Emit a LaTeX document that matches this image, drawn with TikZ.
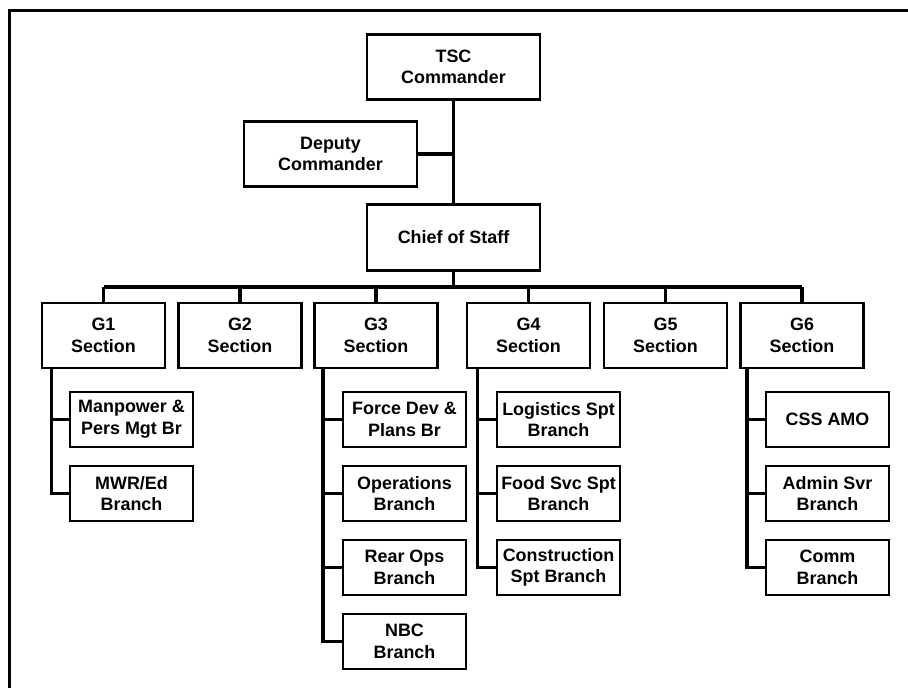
\documentclass[tikz,border=0pt]{standalone}
\usepackage{fontspec}
\setmainfont{Liberation Sans}
\usetikzlibrary{positioning,calc}
\tikzset{
  orgbox/.style={draw, line width=1.5pt, align=center, inner sep=1pt,
    minimum width=2.46cm, minimum height=1.3cm,
    font=\fontsize{10.2}{12.3}\selectfont\bfseries},
  headbox/.style={orgbox, minimum width=3.46cm, minimum height=1.31cm},
  subbox/.style={orgbox, minimum height=1.1cm},
  link/.style={line width=2pt},
  frame/.style={line width=1.8pt}
}
\begin{document}
\begin{tikzpicture}[x=0.02cm,y=-0.02cm]
  \useasboundingbox (0,0) rectangle (908,688);
  \draw[frame] (9.5,688) -- (9.5,10.5) -- (908,10.5);

  % command group
  \node[headbox] (tsc) at (453.5,67) {TSC\\Commander};
  \node[headbox] (dep) at (330.5,154) {Deputy\\Commander};
  \node[headbox] (cos) at (453.5,237.5) {Chief of Staff};
  \coordinate (bus) at (453.5,287);

  % staff sections
  \node[orgbox] (g1) at (103.5,335.5) {G1\\Section};
  \node[orgbox] (g2) at (240,335.5) {G2\\Section};
  \node[orgbox] (g3) at (376,335.5) {G3\\Section};
  \node[orgbox] (g4) at (528.5,335.5) {G4\\Section};
  \node[orgbox] (g5) at (665.5,335.5) {G5\\Section};
  \node[orgbox] (g6) at (802,335.5) {G6\\Section};

  % branches
  \node[subbox] (mpers) at (131.5,419.5) {Manpower \&\\Pers Mgt Br};
  \node[subbox] (mwr) at (131.5,493.5) {MWR/Ed\\Branch};
  \node[subbox] (fdev) at (404.5,419.5) {Force Dev \&\\Plans Br};
  \node[subbox] (ops) at (404.5,493.5) {Operations\\Branch};
  \node[subbox] (rops) at (404.5,567.5) {Rear Ops\\Branch};
  \node[subbox] (nbc) at (404.5,641.5) {NBC\\Branch};
  \node[subbox] (logs) at (558.5,419.5) {Logistics Spt\\Branch};
  \node[subbox] (food) at (558.5,493.5) {Food Svc Spt\\Branch};
  \node[subbox] (cons) at (558.5,567.5) {Construction\\Spt Branch};
  \node[subbox] (amo) at (827.5,419.5) {CSS AMO};
  \node[subbox] (adm) at (827.5,493.5) {Admin Svr\\Branch};
  \node[subbox] (comm) at (827.5,567.5) {Comm\\Branch};

  % trunk tops under the sections
  \coordinate (t1) at ($(g1.south west)+(11,0)$);
  \coordinate (t3) at ($(g3.south west)+(10,0)$);
  \coordinate (t4) at ($(g4.south west)+(12,0)$);
  \coordinate (t6) at ($(g6.south west)+(8,0)$);

  % connectors
  \draw[link] (tsc.south) -- (cos.north);
  \draw[link] (dep.east) -- (dep.east -| tsc.south);
  \draw[link] (cos.south) -- (bus);
  \draw[link] (g1.north |- bus) -- (g6.north |- bus);
  \foreach \g in {g1,g2,g3,g4,g5,g6}
    \draw[link] (\g.north) -- (\g.north |- bus);

  \draw[link] (t1) |- (mwr.west);
  \draw[link] (t1 |- mpers.west) -- (mpers.west);
  \draw[link] (t3) |- (nbc.west);
  \foreach \b in {fdev,ops,rops}
    \draw[link] (t3 |- \b.west) -- (\b.west);
  \draw[link] (t4) |- (cons.west);
  \foreach \b in {logs,food}
    \draw[link] (t4 |- \b.west) -- (\b.west);
  \draw[link] (t6) |- (comm.west);
  \foreach \b in {amo,adm}
    \draw[link] (t6 |- \b.west) -- (\b.west);
\end{tikzpicture}
\end{document}
